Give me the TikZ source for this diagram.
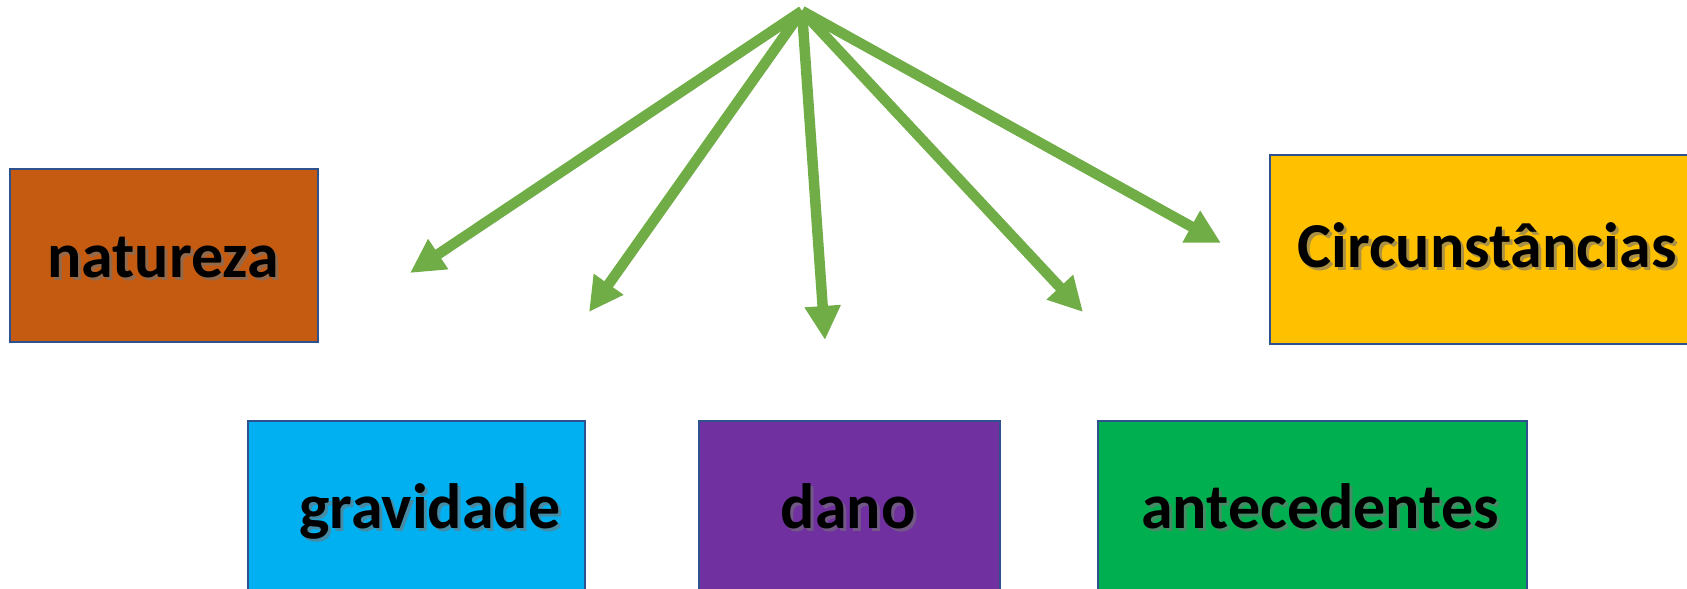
\documentclass[tikz,border=0pt]{standalone}
\usepackage{fontspec}
\setmainfont{Carlito}
\usetikzlibrary{arrows.meta}
\definecolor{cNat}{HTML}{C55A11}
\definecolor{cCir}{HTML}{FFC000}
\definecolor{cGra}{HTML}{00B0F0}
\definecolor{cDan}{HTML}{7030A0}
\definecolor{cAnt}{HTML}{00B050}
\definecolor{cBorder}{HTML}{2F528F}
\definecolor{cArrow}{HTML}{70AD47}
\begin{document}
\begin{tikzpicture}[x=1pt,y=-1pt,
  box/.style={draw=cBorder, line width=2pt, inner sep=0pt, anchor=north west},
  lbl/.style={font=\fontsize{64}{64}\selectfont\bfseries, anchor=base, inner sep=0pt},
  shd/.style={lbl, text=black!55, opacity=0.6},
  arr/.style={draw=cArrow, line width=10.5pt, -{Triangle[length=34pt,width=34pt]}}]
\useasboundingbox (0,0) rectangle (1687,589);
\clip (0,0) rectangle (1687,589);
% boxes
\node[box, fill=cNat, minimum width=308pt, minimum height=173pt] (nat) at (9,168) {};
\node[box, fill=cCir, minimum width=436pt, minimum height=189pt] (cir) at (1269,154) {};
\node[box, fill=cGra, minimum width=337pt, minimum height=200pt] (gra) at (247,420) {};
\node[box, fill=cDan, minimum width=301pt, minimum height=200pt] (dan) at (698,420) {};
\node[box, fill=cAnt, minimum width=429pt, minimum height=200pt] (ant) at (1097,420) {};
% label shadows
\node[shd] (natS) at (166,280) {natureza};
\node[shd] (cirS) at (1490,270) {Circunstâncias};
\node[shd] (graS) at (433,531) {gravidade};
\node[shd] (danS) at (851,531) {dano};
\node[shd] (antS) at (1323,531) {antecedentes};
% labels
\node[lbl] (natT) at (163,277) {natureza};
\node[lbl] (cirT) at (1487,267) {Circunstâncias};
\node[lbl] (graT) at (430,528) {gravidade};
\node[lbl] (danT) at (848,528) {dano};
\node[lbl] (antT) at (1320,528) {antecedentes};
% arrows
\coordinate (apex) at (802,11);
\coordinate (t1) at (410,273);
\coordinate (t2) at (589,312);
\coordinate (t3) at (825,340);
\coordinate (t4) at (1083,312);
\coordinate (t5) at (1221,243);
\draw[arr] (apex) -- (t1);
\draw[arr] (apex) -- (t2);
\draw[arr] (apex) -- (t3);
\draw[arr] (apex) -- (t4);
\draw[arr] (apex) -- (t5);
\end{tikzpicture}
\end{document}
